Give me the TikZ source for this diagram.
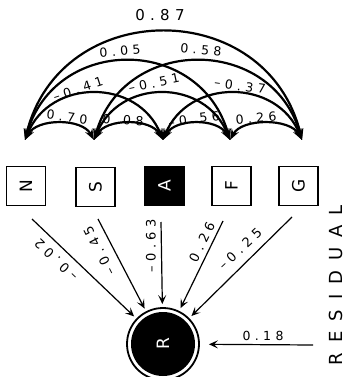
\documentclass[tikz,border=0pt]{standalone}
\usepackage{fontspec}
\setmainfont{DejaVu Sans}
\newfontfamily\labfont[LetterSpace=35]{DejaVu Sans}
\usetikzlibrary{arrows.meta}
\begin{document}
\begin{tikzpicture}[x=1pt,y=-1pt,
  arcline/.style={line width=2.2pt,{Stealth[length=11pt,width=8pt]}-{Stealth[length=11pt,width=8pt]}},
  ray/.style={line width=1.2pt,-{Stealth[length=9pt,width=8pt,inset=4pt]},shorten >=3pt},
  varbox/.style={draw,line width=1.5pt,minimum size=39pt,inner sep=0pt},
  letter/.style={rotate=90,font=\fontsize{17}{17}\selectfont,inner sep=0pt},
  num/.style={font=\labfont\fontsize{12.5}{12.5}\selectfont,inner sep=1pt},
  rnum/.style={font=\labfont\fontsize{13}{13}\selectfont,inner sep=1pt},
  bignum/.style={font=\labfont\fontsize{15}{15}\selectfont,inner sep=1pt}]
\useasboundingbox (0,0) rectangle (350,377);
% tip points
\coordinate (p1) at (25,140);
\coordinate (p2) at (94,140);
\coordinate (p3) at (163,140);
\coordinate (p4) at (230,140);
\coordinate (p5) at (302,140);
% correlation arcs
\draw[arcline] (p1) .. controls +(12,-22) and +(-12,-22) .. (p2);
\draw[arcline] (p2) .. controls +(12,-22) and +(-12,-22) .. (p3);
\draw[arcline] (p3) .. controls +(12,-22) and +(-12,-22) .. (p4);
\draw[arcline] (p4) .. controls +(12,-22) and +(-12,-22) .. (p5);
\draw[arcline] (p1) .. controls +(25,-62) and +(-25,-62) .. (p3);
\draw[arcline] (p2) .. controls +(25,-62) and +(-25,-62) .. (p4);
\draw[arcline] (p3) .. controls +(25,-62) and +(-25,-62) .. (p5);
\draw[arcline] (p1) .. controls +(30,-105) and +(-30,-105) .. (p4);
\draw[arcline] (p2) .. controls +(30,-105) and +(-30,-105) .. (p5);
\draw[arcline] (p1) .. controls +(35,-144) and +(-35,-144) .. (p5);
% arc labels
\node[bignum] (l87) at (160,15) {0.87};
\node[num,rotate=5] (l05) at (120,51) {0.05};
\node[num,rotate=-5] (l58) at (201,50) {0.58};
\node[num,rotate=18] (l41) at (78,89) {–0.41};
\node[num,rotate=12] (l51) at (154,83) {–0.51};
\node[num,rotate=-8] (l37) at (240,86) {–0.37};
\node[num,rotate=-8] (l70) at (67,117) {0.70};
\node[num,rotate=-3] (l08) at (123,120) {0.08};
\node[num,rotate=8] (l56) at (194,119) {–0.56};
\node[num,rotate=5] (l26a) at (256,118) {0.26};
% variable boxes
\node[varbox] (N) at (26,186) {};
\node[letter] (Nl) at (N.center) {N};
\node[varbox] (S) at (95.5,187) {};
\node[letter] (Sl) at (S.center) {S};
\node[varbox,fill=black] (A) at (164.5,186) {};
\node[letter,text=white] (Al) at (A.center) {A};
\node[varbox] (F) at (231.5,186) {};
\node[letter] (Fl) at (F.center) {F};
\node[varbox] (G) at (298.5,186) {};
\node[letter] (Gl) at (G.center) {G};
% dependent variable
\node[circle,draw,line width=1.8pt,fill=white,minimum size=72pt,inner sep=0pt] (R) at (163,344) {};
\fill (R.center) circle[radius=32pt];
\node[letter,text=white] (Rl) at (R.center) {R};
% path arrows
\coordinate (s1) at (32,219);
\coordinate (s2) at (98,219);
\coordinate (s3) at (161,222);
\coordinate (s4) at (223,221);
\coordinate (s5) at (292,217);
\draw[ray] (s1) -- (R);
\draw[ray] (s2) -- (R);
\draw[ray] (s3) -- (R);
\draw[ray] (s4) -- (R);
\draw[ray] (s5) -- (R);
\node[rnum,rotate=136] (l02) at (56,260) {–0.02};
\node[rnum,rotate=117] (l45) at (99,251) {–0.45};
\node[rnum,rotate=90] (l63) at (151,246) {–0.63};
\node[rnum,rotate=64] (l26) at (202,242) {0.26};
\node[rnum,rotate=43] (l25) at (240,249) {–0.25};
% residual
\coordinate (res) at (313,345);
\draw[ray,shorten >=9pt] (res) -- (R);
\node[num] (l18) at (263,336) {0.18};
\node[rotate=90,font=\fontsize{18}{18}\selectfont,inner sep=0pt] (resid) at (336,285)
  {\makebox[160pt][s]{R\hfill E\hfill S\hfill I\hfill D\hfill U\hfill A\hfill L}};
\end{tikzpicture}
\end{document}
